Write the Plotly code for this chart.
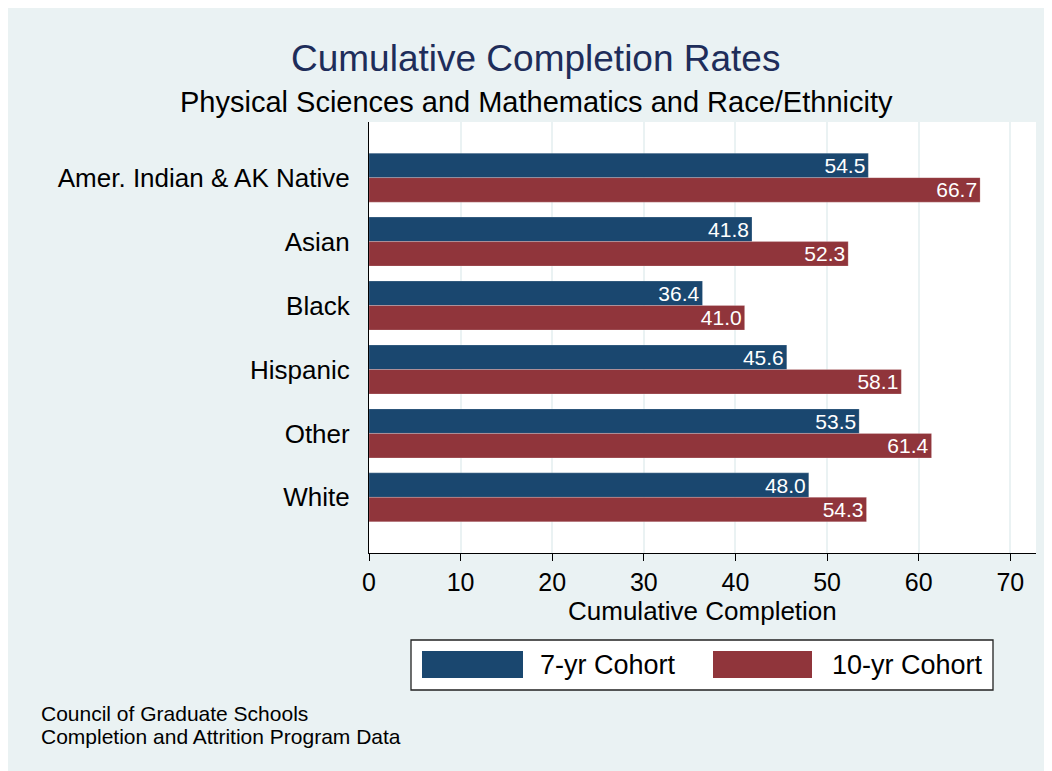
import plotly.graph_objects as go

categories = ["Amer. Indian & AK Native", "Asian", "Black", "Hispanic", "Other", "White"]
cohort7 = [54.5, 41.8, 36.4, 45.6, 53.5, 48.0]
cohort10 = [66.7, 52.3, 41.0, 58.1, 61.4, 54.3]
series_names = ["7-yr Cohort", "10-yr Cohort"]
series_colors = ["#1A476F", "#90353B"]
x_ticks = [0, 10, 20, 30, 40, 50, 60, 70]

W, H = 1052, 771
L, R, T, B = 361, 1028, 114, 545
FONT = "Liberation Sans, Arial, Helvetica, sans-serif"


def px(x):
    return (x - L) / (R - L)


def py(y):
    return (B - y) / (B - T)


fig = go.Figure()
for name, vals, col in zip(series_names, [cohort7, cohort10], series_colors):
    fig.add_trace(go.Bar(
        y=categories, x=vals, orientation="h", name=name,
        marker=dict(color=col, line=dict(color="rgba(255,255,255,0.35)", width=0.6)),
        text=[f"{v:.1f}" for v in vals], textposition="inside",
        insidetextanchor="end", constraintext="none",
        textfont=dict(color="white", size=21, family=FONT),
        showlegend=False,
    ))

shapes = [
    dict(type="rect", xref="paper", yref="paper", x0=px(403), x1=px(985),
         y0=py(682), y1=py(632), fillcolor="white", line=dict(color="#222222", width=1.3)),
    dict(type="rect", xref="paper", yref="paper", x0=px(414), x1=px(515),
         y0=py(670), y1=py(643), fillcolor=series_colors[0], line=dict(width=0)),
    dict(type="rect", xref="paper", yref="paper", x0=px(705), x1=px(804),
         y0=py(670), y1=py(643), fillcolor=series_colors[1], line=dict(width=0)),
]


def ann(text, x, y, size, color="black", xanchor="center"):
    return dict(text=text, x=px(x), y=py(y), xref="paper", yref="paper",
                showarrow=False, xanchor=xanchor, yanchor="middle",
                font=dict(size=size, color=color, family=FONT))


annotations = [
    ann("Cumulative Completion Rates", 527, 51, 37, "#1E2D5A"),
    ann("Physical Sciences and Mathematics and Race/Ethnicity", 528, 94, 29),
    ann("Cumulative Completion", 694, 603, 26),
    ann(series_names[0], 530, 657, 27, xanchor="left"),
    ann(series_names[1], 822, 657, 27, xanchor="left"),
    ann("Council of Graduate Schools", 31, 705, 21, xanchor="left"),
    ann("Completion and Attrition Program Data", 31, 728, 21, xanchor="left"),
]

fig.update_layout(
    width=W, height=H,
    margin=dict(l=L, r=W - R, t=T, b=H - B, pad=0),
    paper_bgcolor="#EAF2F3", plot_bgcolor="white",
    barmode="group", bargap=0.234, bargroupgap=0,
    font=dict(family=FONT, color="black"),
    shapes=shapes, annotations=annotations,
    showlegend=False,
    xaxis=dict(
        range=[0, 72.8], tickvals=x_ticks, ticks="outside", ticklen=7, tickwidth=1.2,
        tickcolor="black", showline=True, linecolor="black", linewidth=1.2,
        showgrid=True, gridcolor="#EAF2F3", gridwidth=2, zeroline=False,
        tickfont=dict(size=25, color="black"),
    ),
    yaxis=dict(
        categoryorder="array", categoryarray=categories,
        range=[5.87, -0.87], showline=True, linecolor="black", linewidth=1.2,
        ticks="", showgrid=False, zeroline=False, ticklabelstandoff=13,
        tickfont=dict(size=26, color="black"),
    ),
)

fig.write_html("out.html")
